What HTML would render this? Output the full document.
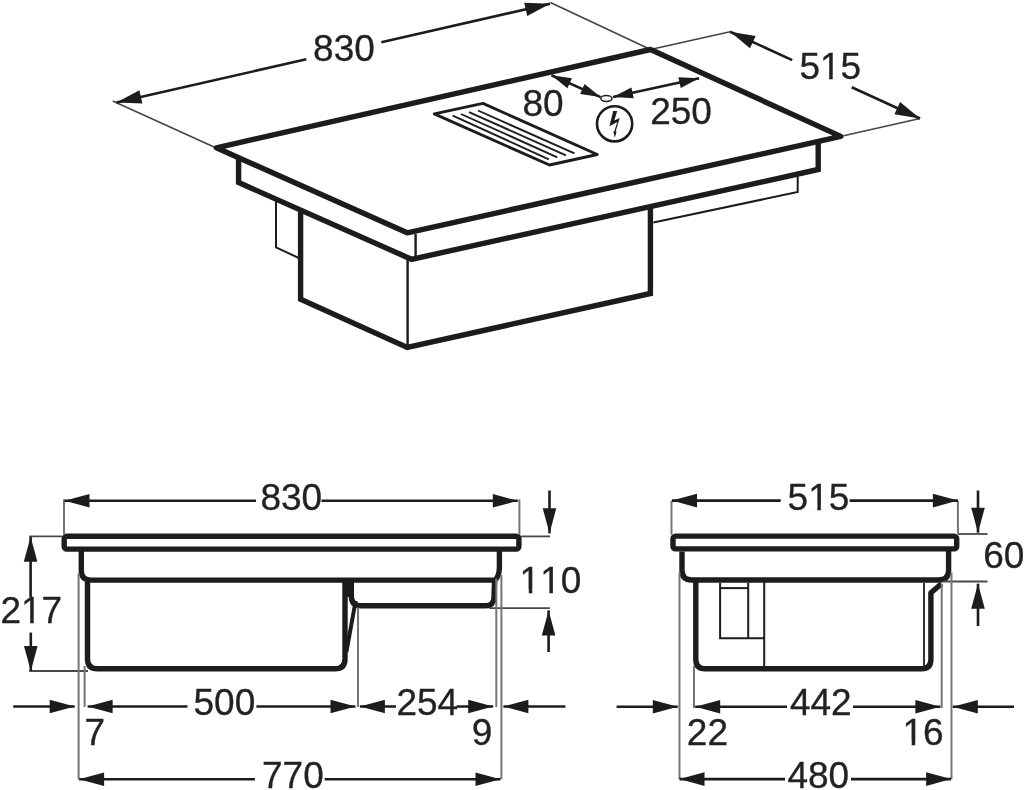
<!DOCTYPE html>
<html><head><meta charset="utf-8"><title>Hob dimensions</title>
<style>
html,body{margin:0;padding:0;background:#fff;}
body{width:1024px;height:790px;overflow:hidden;}
svg{display:block;will-change:transform;}
svg text{font-family:"Liberation Sans",sans-serif;font-kerning:none;fill:#222;stroke:#222;stroke-width:0.3px;}
svg path,svg line,svg rect,svg circle,svg ellipse{fill:none;stroke:#1c1c1c;}
svg path.f{fill:#1c1c1c;stroke:none;}
svg line.e{stroke:#747474;stroke-width:2;}
svg line.eh{stroke:#4a4a4a;stroke-width:1.8;}
svg line.e3{stroke:#454545;stroke-width:1.6;}
svg rect.w{fill:#fff;stroke:none;}
</style></head>
<body>
<svg width="1024" height="790" viewBox="0 0 1024 790">
<line class="e3" x1="112.70" y1="101.00" x2="214.60" y2="147.20"/>
<line class="e3" x1="550.40" y1="2.50" x2="650.50" y2="49.50"/>
<line class="e3" x1="650.50" y1="49.50" x2="730.10" y2="31.70"/>
<line class="e3" x1="843.50" y1="135.80" x2="920.00" y2="118.50"/>
<line x1="116.50" y1="102.50" x2="306.30" y2="59.30" stroke-width="2.6" stroke-linecap="butt"/>
<line x1="381.30" y1="42.22" x2="550.10" y2="3.80" stroke-width="2.6" stroke-linecap="butt"/>
<path class="f" d="M116.50,102.50 L139.37,90.32 L142.39,103.58 Z"/>
<path class="f" d="M550.10,3.80 L527.23,15.98 L524.21,2.72 Z"/>
<text x="313.10" y="61.13" font-size="37">830</text>
<line x1="730.10" y1="31.70" x2="792.20" y2="60.08" stroke-width="2.6" stroke-linecap="butt"/>
<line x1="851.70" y1="87.28" x2="920.00" y2="118.50" stroke-width="2.6" stroke-linecap="butt"/>
<path class="f" d="M730.10,31.70 L755.66,35.91 L750.01,48.28 Z"/>
<path class="f" d="M920.00,118.50 L894.44,114.29 L900.09,101.92 Z"/>
<text x="799.42" y="79.18" font-size="37">515</text>
<rect class="w" x="821.51" y="75.41" width="7.64" height="5.06"/>
<rect class="w" x="832.72" y="75.41" width="7.51" height="5.06"/>
<path d="M216.40,147.80 L650.50,49.50 L840.80,136.40 L407.20,232.80 Z" stroke-width="5.4" stroke-linejoin="round" stroke-linecap="butt"/>
<path d="M238.60,156.50 L238.60,182.50 L411.60,259.30 L818.20,169.50 L818.20,141.50" stroke-width="5.4" stroke-linejoin="miter" stroke-linecap="butt"/>
<line x1="415.60" y1="234.00" x2="415.60" y2="257.00" stroke-width="2.4" stroke-linecap="butt"/>
<path d="M797.70,175.50 L797.70,192.00 L653.40,222.60" stroke-width="2.0" stroke-linejoin="miter" stroke-linecap="butt"/>
<path d="M300.60,210.50 L300.60,299.30 L407.20,347.40 L650.40,293.50 L650.40,207.50" stroke-width="5.4" stroke-linejoin="miter" stroke-linecap="butt"/>
<line x1="407.60" y1="259.50" x2="407.60" y2="345.00" stroke-width="2.4" stroke-linecap="butt"/>
<path d="M276.00,200.50 L276.00,247.40 L298.50,257.80" stroke-width="2.0" stroke-linejoin="miter" stroke-linecap="butt"/>
<path d="M434.30,113.90 L483.00,103.40 L597.30,154.50 L549.50,165.00 Z" stroke-width="2.9" stroke-linejoin="round" stroke-linecap="butt"/>
<line x1="452.70" y1="115.60" x2="548.80" y2="159.30" stroke-width="1.9" stroke-linecap="butt"/>
<line x1="460.90" y1="114.00" x2="557.30" y2="157.30" stroke-width="1.9" stroke-linecap="butt"/>
<line x1="469.00" y1="112.10" x2="566.00" y2="155.30" stroke-width="1.9" stroke-linecap="butt"/>
<line x1="478.00" y1="110.50" x2="574.50" y2="153.40" stroke-width="1.9" stroke-linecap="butt"/>
<line x1="551.40" y1="75.20" x2="600.60" y2="97.10" stroke-width="2.6" stroke-linecap="butt"/>
<path class="f" d="M551.40,75.20 L571.91,78.31 L567.44,88.36 Z"/>
<path class="f" d="M600.60,97.10 L580.09,93.99 L584.56,83.94 Z"/>
<line x1="613.00" y1="97.10" x2="699.10" y2="78.30" stroke-width="2.6" stroke-linecap="butt"/>
<path class="f" d="M613.00,97.10 L631.37,87.46 L633.71,98.21 Z"/>
<path class="f" d="M699.10,78.30 L680.73,87.94 L678.39,77.19 Z"/>
<ellipse cx="606.4" cy="98.5" rx="5.6" ry="2.9" stroke-width="1.5" fill="#fff"/>
<text x="522.49" y="115.88" font-size="37">80</text>
<text x="650.23" y="123.73" font-size="37">250</text>
<circle cx="614.6" cy="123.8" r="17.6" stroke-width="2.6"/>
<path class="f" d="M613.2,110.9 L617.2,110.9 L614.3,120.6 L619.7,117.9 L615.7,131.4 L616.6,131.6 L614.8,137.8 L613.3,131.6 L614.3,131.3 L617.3,121.9 L609.4,126.2 Z"/>
<rect x="64.2" y="536.2" width="454.7" height="12.9" rx="2.5" stroke-width="5.4"/>
<path d="M81.3,551 V570.5 Q81.3,580.1 91,580.1 H496.5" stroke-width="5.4" stroke-linejoin="round" stroke-linecap="butt"/>
<path d="M87.5,582 V659 Q87.5,668.8 97.5,668.8 H335 Q345,668.8 345,659 V582" stroke-width="5.4" stroke-linejoin="round" stroke-linecap="butt"/>
<path d="M499.4,551 V567 Q499.4,576.5 494.6,580.5 L494.0,597.5 Q493.6,605.8 486,605.8 H361.3 Q351.3,605.8 351.3,596 V582" stroke-width="5.4" stroke-linejoin="round" stroke-linecap="butt"/>
<path class="f" d="M343.5,582 H353.3 V596 L347.5,597 H343.5 Z"/>
<line x1="355.60" y1="601.00" x2="346.40" y2="652.00" stroke-width="4.0" stroke-linecap="butt"/>
<line x1="495.30" y1="599.70" x2="489.80" y2="607.80" stroke-width="1.4" stroke-linecap="butt"/>
<line class="e" x1="64.00" y1="499.30" x2="64.00" y2="534.50"/>
<line class="e" x1="519.40" y1="499.30" x2="519.40" y2="535.00"/>
<line class="eh" x1="29.30" y1="536.40" x2="62.00" y2="536.40"/>
<line class="eh" x1="29.30" y1="671.00" x2="88.00" y2="671.00"/>
<line class="eh" x1="521.00" y1="536.40" x2="550.00" y2="536.40"/>
<line class="eh" x1="489.30" y1="608.20" x2="550.00" y2="608.20"/>
<line class="e" x1="78.60" y1="573.50" x2="78.60" y2="779.30"/>
<line class="e" x1="84.60" y1="666.00" x2="84.60" y2="707.00"/>
<line class="e" x1="358.00" y1="607.50" x2="358.00" y2="707.00"/>
<line class="e" x1="496.30" y1="578.50" x2="496.30" y2="707.00"/>
<line class="e" x1="501.40" y1="575.00" x2="501.40" y2="779.10"/>
<line x1="64.50" y1="500.80" x2="256.00" y2="500.80" stroke-width="2.6" stroke-linecap="butt"/>
<path class="f" d="M64.50,500.80 L89.50,494.00 L89.50,507.60 Z"/>
<line x1="321.50" y1="500.80" x2="517.80" y2="500.80" stroke-width="2.6" stroke-linecap="butt"/>
<path class="f" d="M517.80,500.80 L492.80,507.60 L492.80,494.00 Z"/>
<text x="260.40" y="509.53" font-size="37">830</text>
<line x1="30.60" y1="536.80" x2="30.60" y2="597.00" stroke-width="2.6" stroke-linecap="butt"/>
<path class="f" d="M30.60,536.80 L37.40,561.80 L23.80,561.80 Z"/>
<line x1="30.80" y1="632.60" x2="30.80" y2="671.00" stroke-width="2.6" stroke-linecap="butt"/>
<path class="f" d="M30.80,671.00 L24.00,646.00 L37.60,646.00 Z"/>
<text x="0.43" y="623.38" font-size="37">217</text>
<rect class="w" x="22.52" y="619.61" width="7.64" height="5.06"/>
<rect class="w" x="33.73" y="619.61" width="7.51" height="5.06"/>
<line x1="549.50" y1="490.50" x2="549.50" y2="533.30" stroke-width="2.6" stroke-linecap="butt"/>
<path class="f" d="M549.50,533.30 L542.70,508.30 L556.30,508.30 Z"/>
<line x1="548.60" y1="610.40" x2="548.60" y2="652.00" stroke-width="2.6" stroke-linecap="butt"/>
<path class="f" d="M548.60,610.40 L555.40,635.40 L541.80,635.40 Z"/>
<text x="519.60" y="592.98" font-size="37">110</text>
<rect class="w" x="521.11" y="589.21" width="7.64" height="5.06"/>
<rect class="w" x="532.32" y="589.21" width="7.51" height="5.06"/>
<rect class="w" x="541.68" y="589.21" width="7.64" height="5.06"/>
<rect class="w" x="552.90" y="589.21" width="7.51" height="5.06"/>
<line x1="13.20" y1="706.50" x2="74.70" y2="706.50" stroke-width="2.6" stroke-linecap="butt"/>
<path class="f" d="M74.70,706.50 L49.70,713.30 L49.70,699.70 Z"/>
<line x1="87.60" y1="706.50" x2="187.50" y2="706.50" stroke-width="2.6" stroke-linecap="butt"/>
<path class="f" d="M87.60,706.50 L112.60,699.70 L112.60,713.30 Z"/>
<text x="193.52" y="715.38" font-size="37">500</text>
<line x1="256.40" y1="706.50" x2="355.50" y2="706.50" stroke-width="2.6" stroke-linecap="butt"/>
<path class="f" d="M355.50,706.50 L330.50,713.30 L330.50,699.70 Z"/>
<line x1="359.90" y1="706.50" x2="396.00" y2="706.50" stroke-width="2.6" stroke-linecap="butt"/>
<path class="f" d="M359.90,706.50 L384.90,699.70 L384.90,713.30 Z"/>
<text x="396.39" y="714.98" font-size="37">254</text>
<line x1="456.60" y1="706.50" x2="493.20" y2="706.50" stroke-width="2.6" stroke-linecap="butt"/>
<path class="f" d="M493.20,706.50 L468.20,713.30 L468.20,699.70 Z"/>
<line x1="503.40" y1="706.50" x2="565.40" y2="706.50" stroke-width="2.6" stroke-linecap="butt"/>
<path class="f" d="M503.40,706.50 L528.40,699.70 L528.40,713.30 Z"/>
<text x="84.49" y="745.18" font-size="37">7</text>
<text x="471.72" y="744.98" font-size="37">9</text>
<line x1="79.10" y1="779.30" x2="254.90" y2="779.30" stroke-width="2.6" stroke-linecap="butt"/>
<path class="f" d="M79.10,779.30 L104.10,772.50 L104.10,786.10 Z"/>
<text x="262.01" y="787.88" font-size="37">770</text>
<line x1="324.70" y1="779.30" x2="500.50" y2="779.30" stroke-width="2.6" stroke-linecap="butt"/>
<path class="f" d="M500.50,779.30 L475.50,786.10 L475.50,772.50 Z"/>
<rect x="673.0" y="536.1" width="283.7" height="12.8" rx="2.5" stroke-width="5.4"/>
<path d="M682,551.5 V570.5 Q682,580 692,580 H938.6 Q948.6,580 948.6,570.5 V551" stroke-width="5.4" stroke-linejoin="round" stroke-linecap="butt"/>
<path d="M695.8,582 V659.5 Q695.8,668.8 705,668.8 H921.5 Q930.9,668.8 930.9,659.5 V592.8 L941.5,583.7" stroke-width="5.4" stroke-linejoin="round" stroke-linecap="butt"/>
<line x1="924.00" y1="583.00" x2="924.00" y2="667.00" stroke-width="1.8" stroke-linecap="butt"/>
<path d="M720.10,582.80 L720.10,638.20 L764.20,638.20" stroke-width="2.0" stroke-linejoin="miter" stroke-linecap="butt"/>
<line x1="748.20" y1="582.80" x2="748.20" y2="638.20" stroke-width="2.0" stroke-linecap="butt"/>
<line x1="764.20" y1="582.00" x2="764.20" y2="667.50" stroke-width="2.0" stroke-linecap="butt"/>
<line x1="720.10" y1="588.10" x2="748.20" y2="588.10" stroke-width="2.0" stroke-linecap="butt"/>
<line class="e" x1="671.50" y1="500.50" x2="671.50" y2="534.70"/>
<line class="e" x1="957.90" y1="500.80" x2="957.90" y2="533.80"/>
<line class="eh" x1="957.90" y1="534.00" x2="987.50" y2="534.00"/>
<line class="eh" x1="943.00" y1="581.50" x2="987.50" y2="581.50"/>
<line class="e" x1="679.50" y1="572.50" x2="679.50" y2="779.10"/>
<line class="e" x1="694.00" y1="666.00" x2="694.00" y2="708.00"/>
<line class="e" x1="941.70" y1="583.70" x2="941.70" y2="708.00"/>
<line class="e" x1="951.50" y1="572.60" x2="951.50" y2="779.10"/>
<line x1="672.00" y1="500.60" x2="780.70" y2="500.60" stroke-width="2.6" stroke-linecap="butt"/>
<path class="f" d="M672.00,500.60 L697.00,493.80 L697.00,507.40 Z"/>
<text x="787.57" y="509.53" font-size="37">515</text>
<rect class="w" x="809.66" y="505.76" width="7.64" height="5.06"/>
<rect class="w" x="820.87" y="505.76" width="7.51" height="5.06"/>
<line x1="849.60" y1="500.60" x2="957.90" y2="500.60" stroke-width="2.6" stroke-linecap="butt"/>
<path class="f" d="M957.90,500.60 L932.90,507.40 L932.90,493.80 Z"/>
<line x1="978.00" y1="490.50" x2="978.00" y2="532.70" stroke-width="2.6" stroke-linecap="butt"/>
<path class="f" d="M978.00,532.70 L971.20,507.70 L984.80,507.70 Z"/>
<line x1="978.00" y1="583.70" x2="978.00" y2="626.00" stroke-width="2.6" stroke-linecap="butt"/>
<path class="f" d="M978.00,583.70 L984.80,608.70 L971.20,608.70 Z"/>
<text x="983.21" y="567.63" font-size="37">60</text>
<line x1="616.60" y1="706.70" x2="677.80" y2="706.70" stroke-width="2.6" stroke-linecap="butt"/>
<path class="f" d="M677.80,706.70 L652.80,713.50 L652.80,699.90 Z"/>
<line x1="695.20" y1="706.70" x2="787.00" y2="706.70" stroke-width="2.6" stroke-linecap="butt"/>
<path class="f" d="M695.20,706.70 L720.20,699.90 L720.20,713.50 Z"/>
<text x="789.89" y="714.98" font-size="37">442</text>
<line x1="853.00" y1="706.70" x2="940.40" y2="706.70" stroke-width="2.6" stroke-linecap="butt"/>
<path class="f" d="M940.40,706.70 L915.40,713.50 L915.40,699.90 Z"/>
<line x1="952.80" y1="706.70" x2="1014.00" y2="706.70" stroke-width="2.6" stroke-linecap="butt"/>
<path class="f" d="M952.80,706.70 L977.80,699.90 L977.80,713.50 Z"/>
<text x="686.87" y="745.18" font-size="37">22</text>
<text x="902.53" y="745.18" font-size="37">16</text>
<rect class="w" x="904.04" y="741.41" width="7.64" height="5.06"/>
<rect class="w" x="915.25" y="741.41" width="7.51" height="5.06"/>
<line x1="679.50" y1="779.10" x2="785.00" y2="779.10" stroke-width="2.6" stroke-linecap="butt"/>
<path class="f" d="M679.50,779.10 L704.50,772.30 L704.50,785.90 Z"/>
<text x="787.48" y="787.88" font-size="37">480</text>
<line x1="851.00" y1="779.10" x2="951.10" y2="779.10" stroke-width="2.6" stroke-linecap="butt"/>
<path class="f" d="M951.10,779.10 L926.10,785.90 L926.10,772.30 Z"/>
</svg>
</body></html>
